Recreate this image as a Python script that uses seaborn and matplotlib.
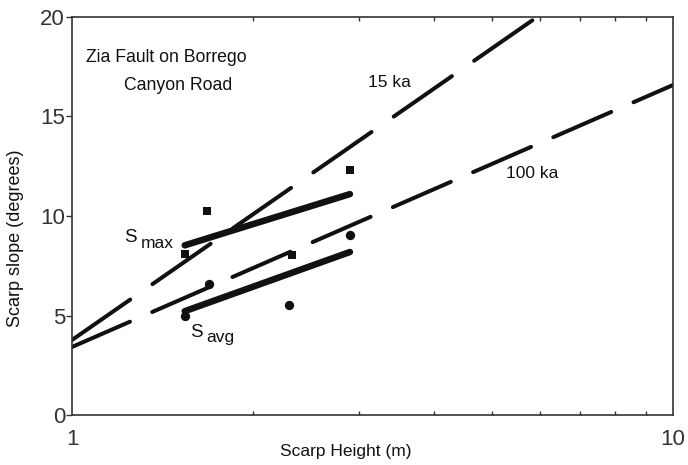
import numpy as np
import pandas as pd
import seaborn as sns
from matplotlib import pyplot as plt

# scarp measurements, Zia Fault on Borrego Canyon Road
smax_height = [1.54, 1.68, 2.32, 2.90]
smax_slope = [8.1, 10.25, 8.05, 12.3]
savg_height = [1.54, 1.69, 2.30, 2.90]
savg_slope = [5.0, 6.58, 5.53, 9.05]

# diffusion model curves (height, slope) at the ends of the plotted range
model_height = [1, 10]
ka15_slope = [3.77, 24.74]
ka100_slope = [3.42, 16.58]

sns.set_style("ticks")
plt.rcParams['font.family'] = ['Liberation Sans', 'DejaVu Sans']
plt.rcParams['lines.scale_dashes'] = False

ink = '#111111'
fig = plt.figure(figsize=(6.88, 4.65), dpi=100)
ax = fig.add_axes([0.1047, 0.1075, 0.8735, 0.856])
ax.set_xscale('log')

smax = pd.DataFrame({'height': smax_height, 'slope': smax_slope})
savg = pd.DataFrame({'height': savg_height, 'slope': savg_slope})
model = pd.DataFrame({'height': model_height, 'ka15': ka15_slope, 'ka100': ka100_slope})

sns.lineplot(data=model, x='height', y='ka15', ax=ax, color=ink, lw=2.9,
             linestyle=(0, (51, 19.5)))
ax.lines[-1].set_dash_capstyle('round')
sns.lineplot(data=model, x='height', y='ka100', ax=ax, color=ink, lw=2.9,
             linestyle=(0, (45.5, 17.5)))
ax.lines[-1].set_dash_capstyle('round')

sns.regplot(data=smax, x='height', y='slope', logx=True, ci=None, ax=ax,
            marker='s', color=ink,
            scatter_kws={'s': 40, 'linewidths': 0, 'alpha': 1, 'zorder': 4},
            line_kws={'lw': 4.7, 'solid_capstyle': 'round'})
sns.regplot(data=savg, x='height', y='slope', logx=True, ci=None, ax=ax,
            marker='o', color=ink,
            scatter_kws={'s': 45, 'linewidths': 0, 'alpha': 1, 'zorder': 4},
            line_kws={'lw': 4.7, 'solid_capstyle': 'round'})

ax.set_xlim(1, 10)
ax.set_ylim(0, 20)
ax.set_yticks([0, 5, 10, 15, 20])
ax.set_xticks([1, 10])
ax.set_xticklabels(['1', '10'])
ax.tick_params(axis='y', labelsize=16, length=4, width=1, color='#333333',
               labelcolor='#333333', pad=1)
ax.tick_params(axis='x', which='major', labelsize=16, length=0,
               labelcolor='#333333', pad=10)
ax.tick_params(axis='x', which='minor', direction='in', length=3, width=1,
               color='#333333', top=True, bottom=True, labelbottom=False)
for s in ax.spines.values():
    s.set_linewidth(1.2)
    s.set_color('#333333')

ax.set_xlabel('Scarp Height (m)', fontsize=12.5, color=ink)
ax.set_ylabel('Scarp slope (degrees)', fontsize=13, color=ink)
ax.xaxis.set_label_coords(0.456, -0.072)
ax.yaxis.set_label_coords(-0.08, 0.445)

txt = dict(color=ink, ha='center', va='center')
ax.text(1.433, 17.94, 'Zia Fault on Borrego', fontsize=12.7, **txt)
ax.text(1.50, 16.58, 'Canyon Road', fontsize=12.7, **txt)
ax.text(3.37, 16.73, '15 ka', fontsize=12.5, **txt)
ax.text(5.83, 12.11, '100 ka', fontsize=12.5, **txt)
ax.text(1.249, 8.94, 'S', fontsize=13.5, **txt)
ax.text(1.385, 8.64, 'max', fontsize=12.5, **txt)
ax.text(1.608, 4.17, 'S', fontsize=13.5, **txt)
ax.text(1.763, 3.87, 'avg', fontsize=12.5, **txt)

fig.savefig('out.png', dpi=100)
